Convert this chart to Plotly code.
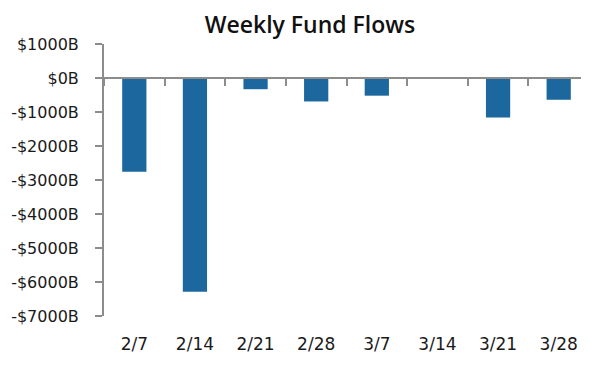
import plotly.graph_objects as go

weeks = ["2/7", "2/14", "2/21", "2/28", "3/7", "3/14", "3/21", "3/28"]
flows = [-2760, -6290, -330, -690, -520, 15, -1160, -640]
y_ticks = [1000, 0, -1000, -2000, -3000, -4000, -5000, -6000, -7000]
y_tick_labels = ["$1000B", "$0B", "-$1000B", "-$2000B", "-$3000B", "-$4000B", "-$5000B", "-$6000B", "-$7000B"]

FONT = "DejaVu Sans"
GREY = "#8c8c8c"
TXT = "#1a1a1a"

# page body has an 8px default margin; size the figure to compensate
W, H = 581, 367

fig = go.Figure(
    go.Bar(x=weeks, y=flows, marker=dict(color="#1b679e", line=dict(width=0)), width=0.4)
)

fig.update_layout(
    width=W, height=H,
    margin=dict(l=96, r=0, t=36, b=59, autoexpand=False),
    plot_bgcolor="white", paper_bgcolor="white",
    showlegend=False,
    font=dict(family=FONT, color=TXT, size=16),
    title=dict(text="Weekly Fund Flows", x=302/W, xanchor="center", xref="container",
               y=1 - 17/H, yanchor="middle", yref="container",
               font=dict(family="Open Sans", size=23, color="#111111", weight=600)),
)

fig.update_xaxes(
    type="category", range=[-0.5, 7.5], automargin=False,
    anchor="free", position=7/8,
    showline=True, linecolor=GREY, linewidth=2,
    ticks="outside", tickson="boundaries", ticklen=7, tickwidth=2, tickcolor=GREY,
    showgrid=False, zeroline=False,
    ticklabelstandoff=251,
    tickfont=dict(family=FONT, size=17, color=TXT),
)

fig.update_yaxes(
    range=[-7000, 1000], automargin=False,
    tickvals=y_ticks, ticktext=y_tick_labels,
    showline=True, linecolor=GREY, linewidth=2,
    ticks="outside", ticklen=7, tickwidth=2, tickcolor=GREY,
    showgrid=False, zeroline=False,
    ticklabelstandoff=13,
    tickfont=dict(family=FONT, size=16, color=TXT),
)

fig.write_html("out.html")
